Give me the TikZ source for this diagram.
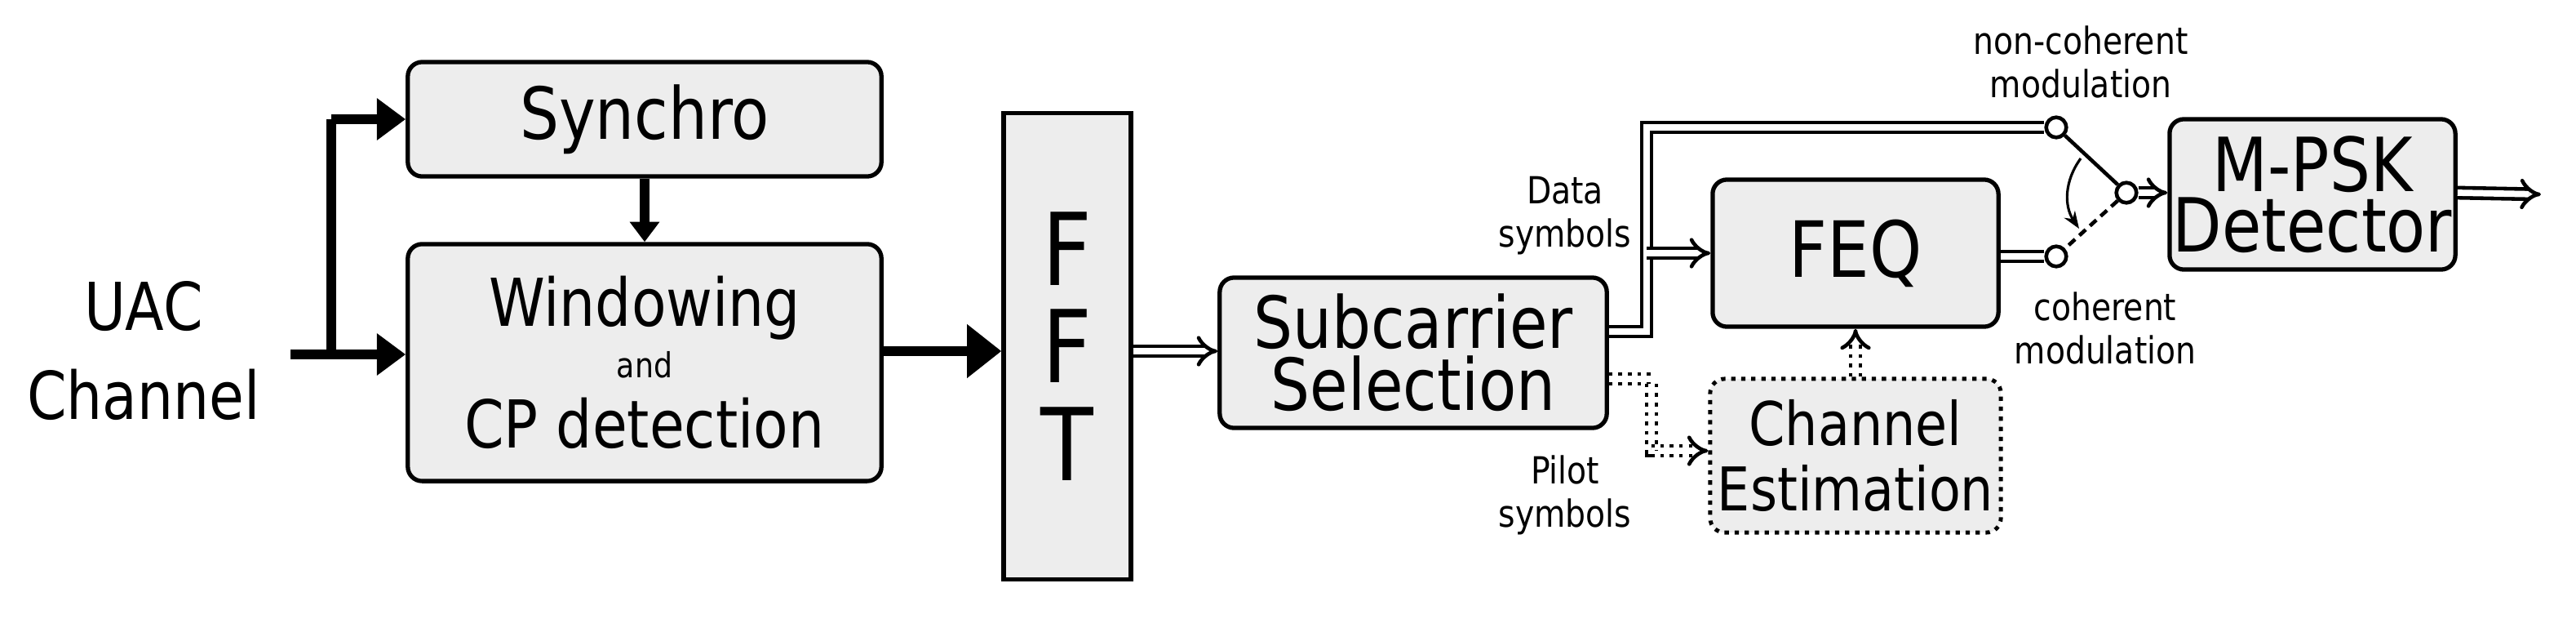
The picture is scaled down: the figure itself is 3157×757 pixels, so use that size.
\documentclass[tikz,border=0pt]{standalone}
\usepackage{fontspec}
\setmainfont{DejaVu Sans}[FakeStretch=0.86]
\usetikzlibrary{arrows.meta,arrows}
\begin{document}
\begin{tikzpicture}[x=0.01cm,y=-0.01cm,
  blk/.style={draw,line width=1.5pt,rounded corners=5pt,fill=black!7,align=center,inner sep=0pt},
  thk/.style={line width=3.2pt,-{Triangle[length=10pt,width=14pt]}},
  thkl/.style={line width=3.2pt},
  dbl/.style={double,double distance=2.2pt,line width=1.3pt},
  dbla/.style={dbl,-Implies},
  dot/.style={dotted,line width=1.4pt},
  sm/.style={font=\fontsize{13}{15}\selectfont,align=center,inner sep=0pt},
  sw/.style={circle,draw,line width=1.3pt,fill=white,minimum size=7pt,inner sep=0pt}]
\useasboundingbox (0,0) rectangle (3157,757);
\begin{scope}[scale=2]
\node[align=center,font=\fontsize{23}{31}\selectfont] (uac) at (88,215) {UAC\\Channel};
\node[blk,minimum width=290*0.02cm,minimum height=70*0.02cm,font=\fontsize{25}{30}\selectfont] (syn) at (395,73) {Synchro};
\node[blk,minimum width=290*0.02cm,minimum height=145*0.02cm,font=\fontsize{23}{18}\selectfont] (win) at (395,222) {Windowing\\{\fontsize{12}{12}\selectfont and}\\[6.5pt]CP detection};
\node[blk,rounded corners=0pt,minimum width=78*0.02cm,minimum height=285*0.02cm,font=\fontsize{35}{42}\selectfont] (fft) at (654,212) {F\\[-8pt]F\\[-8pt]T};
\node[blk,minimum width=237*0.02cm,minimum height=92*0.02cm,font=\fontsize{25}{30}\selectfont] (sub) at (866,216) {Subcarrier\\[-8.4pt]Selection};
\node[blk,minimum width=175*0.02cm,minimum height=90*0.02cm,font=\fontsize{27}{32}\selectfont] (feq) at (1137,155) {FEQ};
\node[blk,dot,minimum width=178*0.02cm,minimum height=94*0.02cm,font=\fontsize{21}{25.2}\selectfont] (ce) at (1137,279) {Channel\\[-2.2pt]Estimation};
\node[blk,minimum width=175*0.02cm,minimum height=92*0.02cm,font=\fontsize{26}{31.2}\selectfont] (mpsk) at (1417,119) {M-PSK\\[-10.2pt]Detector};
% thick input arrows
\coordinate (in) at (178,217);
\coordinate (br) at (203,217);
\draw[thk] (in) -- (win.west|-in);
\draw[thkl] (br) -- (203,73) coordinate (bu);
\draw[thk] (bu) -- (syn.west|-bu);
\draw[thk,-{Triangle[length=7pt,width=10pt]}] (syn.south) -- (win.north);
\draw[thk,-{Triangle[length=12pt,width=18pt]}] (win.east|-0,215) -- (fft.west|-0,215);
\draw[dbla] (fft.east|-0,215) -- (sub.west|-0,215);
% switch
\node[sw] (c1) at (1260,78) {};
\node[sw] (c2) at (1260,157) {};
\node[sw] (pv) at (1303,118) {};
\draw[line width=1.3pt] (pv) -- (c1);
\draw[line width=1.3pt,densely dashed] (pv) -- (c2);
\draw[line width=0.9pt,-{Stealth[length=6pt]}] (1275,97) to[bend right=35] (1274,140);
% data path
\coordinate (d1) at (1009,203);
\coordinate (d2) at (1009,78);
\coordinate (d3) at (1009,155);
\draw[dbl] (sub.east|-d1) -- (d1) -- (d2) -- (c1);
\draw[dbla] (d3) -- (feq.west|-d3);
\draw[dbl] (feq.east|-c2) -- (c2);
\draw[dbla] (pv) -- (mpsk.west|-pv);
\draw[dbla] (mpsk.east|-pv) -- (1557,119);
% pilot path
\coordinate (p1) at (1012,232);
\coordinate (p2) at (1012,276);
\draw[dbla,dotted] (sub.east|-p1) -- (p1) -- (p2) -- (ce.west|-p2);
\draw[dbla,dotted] (ce.north) -- (feq.south);
% labels
\node[sm,anchor=east] at (1000,132) {Data\\symbols};
\node[sm,anchor=east] at (1000,303) {Pilot\\symbols};
\node[sm] at (1275,38) {non-coherent\\modulation};
\node[sm] at (1290,201) {coherent\\modulation};
\end{scope}
\end{tikzpicture}
\end{document}
